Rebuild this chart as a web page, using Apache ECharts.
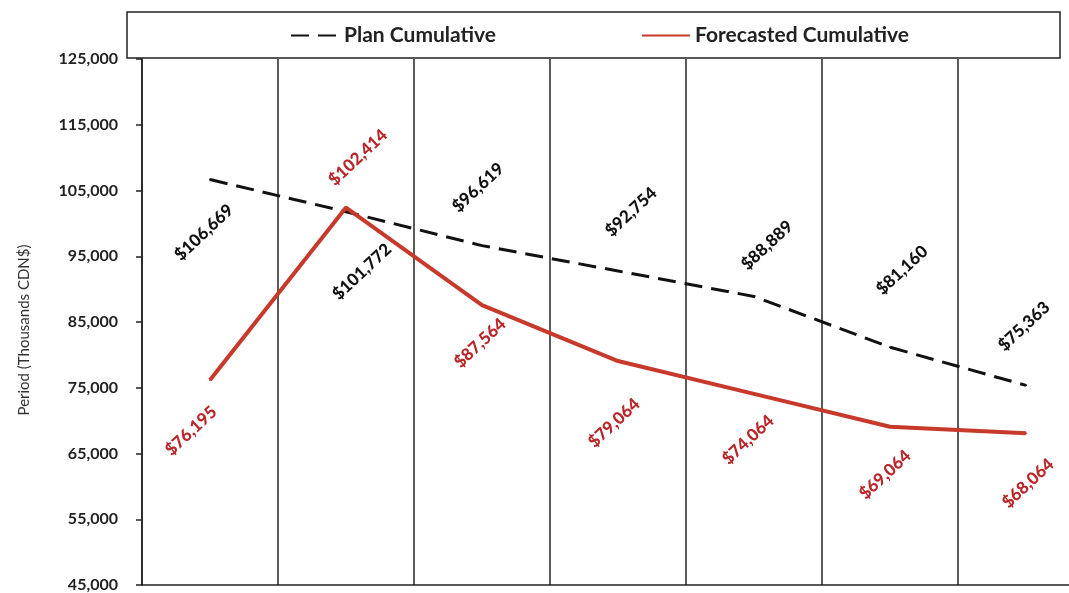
<!DOCTYPE html>
<html>
<head>
<meta charset="utf-8">
<script src="https://cdn.jsdelivr.net/npm/echarts@6/dist/echarts.min.js"></script>
<style>
  html, body { margin: 0; padding: 0; background: #ffffff; overflow: hidden; }
  #chart { width: 1094px; height: 593px; }
</style>
</head>
<body>
<div id="chart"></div>
<script>
// Periods along the horizontal axis (labels fall below the visible area)
const periods = ['Period 1', 'Period 2', 'Period 3', 'Period 4', 'Period 5', 'Period 6', 'Period 7'];

// Cumulative values, thousands CDN$
const planCumulative = [106669, 101772, 96619, 92754, 88889, 81160, 75363];
const forecastCumulative = [76195, 102414, 87564, 79064, 74064, 69064, 68064];

// Value axis range and step
const yMin = 45000;
const yMax = 125000;
const yStep = 10000;

// Where each value label sits relative to its point (px, label centre)
const planLabelShift = [[-6, 53], [16, 60], [-4, -58], [13, -59], [13, -51], [12, -77], [-2, -59]];
const forecastLabelShift = [[-19, 51], [12, -50], [-2, 38], [-4, 62], [-6, 46], [-5, 48], [2, 50]];

const SYMBOL = 2;
const money = v => '$' + v.toLocaleString('en-US');
const withLabels = (values, shifts) => values.map((v, i) => ({
  value: v,
  label: { position: [SYMBOL / 2 + shifts[i][0], SYMBOL / 2 + shifts[i][1]] }
}));

const baseLabel = {
  show: true,
  rotate: 43,
  align: 'center',
  verticalAlign: 'middle',
  fontFamily: 'Lato',
  fontWeight: 900,
  fontSize: 17,
  formatter: p => money(p.value)
};

const chart = echarts.init(document.getElementById('chart'), null, { renderer: 'canvas' });

chart.setOption({
  backgroundColor: '#ffffff',
  animation: false,
  graphic: [{
    type: 'rect',
    z: 0,
    shape: { x: 127, y: 12, width: 933, height: 46 },
    style: { fill: '#ffffff', stroke: '#222222', lineWidth: 1.5 }
  }],
  legend: {
    left: 285,
    top: 20,
    itemWidth: 48,
    itemHeight: 14,
    itemGap: 145,
    z: 5,
    itemStyle: { opacity: 0 },
    textStyle: { fontFamily: 'Lato', fontWeight: 'bold', fontSize: 21, color: '#222222' },
    data: ['Plan Cumulative', 'Forecasted Cumulative']
  },
  grid: { left: 142, right: 0, top: 59, bottom: 6, containLabel: false },
  xAxis: {
    type: 'category',
    data: periods,
    boundaryGap: true,
    axisLine: { show: true, lineStyle: { color: '#222222', width: 1.5 } },
    axisTick: { show: false },
    axisLabel: { show: false },
    splitLine: { show: true, lineStyle: { color: '#222222', width: 1.5 } }
  },
  yAxis: {
    type: 'value',
    min: yMin,
    max: yMax,
    interval: yStep,
    name: 'Period (Thousands CDN$)',
    nameLocation: 'middle',
    nameGap: 110,
    nameTextStyle: { fontFamily: 'Lato', fontSize: 15, color: '#333333', padding: [0, 16, 0, 0] },
    axisLine: { show: true, lineStyle: { color: '#222222', width: 1.5 } },
    axisTick: { show: true, length: 6, lineStyle: { color: '#222222', width: 1.5 } },
    axisLabel: {
      margin: 24,
      fontFamily: 'Lato',
      fontWeight: 'bold',
      fontSize: 16,
      color: '#222222',
      formatter: v => v.toLocaleString('en-US')
    },
    splitLine: { show: false }
  },
  series: [
    {
      name: 'Plan Cumulative',
      type: 'line',
      data: withLabels(planCumulative, planLabelShift),
      symbol: 'circle',
      symbolSize: SYMBOL,
      itemStyle: { color: '#111111' },
      lineStyle: { color: '#111111', width: 3, type: [18, 9] },
      label: Object.assign({}, baseLabel, { color: '#111111' }),
      z: 3
    },
    {
      name: 'Forecasted Cumulative',
      type: 'line',
      data: withLabels(forecastCumulative, forecastLabelShift),
      symbol: 'circle',
      symbolSize: SYMBOL,
      itemStyle: { color: '#c6392b' },
      lineStyle: { color: '#c6392b', width: 4 },
      label: Object.assign({}, baseLabel, { color: '#b8262a' }),
      z: 4
    }
  ]
});
</script>
</body>
</html>
